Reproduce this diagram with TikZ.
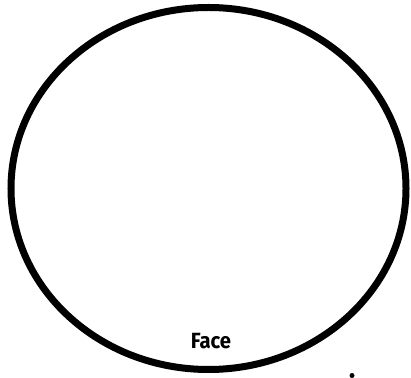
\documentclass[tikz,border=0pt]{standalone}
\usepackage{fontspec}
\usetikzlibrary{shapes.geometric}
\newfontfamily\handfont{Fira Sans}
\begin{document}
\begin{tikzpicture}[x=1pt,y=1pt,
  facering/.style={draw=black,line width=7pt},
  facelabel/.style={font=\handfont\bfseries\fontsize{22}{24}\selectfont,inner sep=0pt}]
\useasboundingbox (0,0) rectangle (411,377);
\node[facering,ellipse,minimum width=395pt,minimum height=362pt,inner sep=0pt] (face) at (208.5,188.5) {};
\node[facelabel,xscale=0.92] (lbl) at (211,36) {Face};
\fill (352,1.5) circle (2.5pt);
\end{tikzpicture}
\end{document}
